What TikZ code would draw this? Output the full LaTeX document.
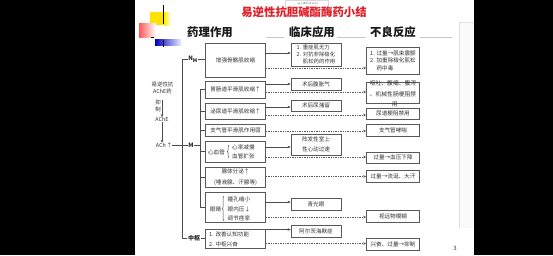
\documentclass[tikz,border=0pt]{standalone}
\usepackage{fontspec}
\setmainfont{Noto Sans CJK SC}
\usetikzlibrary{arrows.meta, decorations.pathreplacing}
\definecolor{ttlred}{RGB}{226,30,40}
\tikzset{
  lbox/.style ={draw=black!65, line width=0.7pt, minimum width=60pt, inner sep=0pt, align=center, font=\fontsize{5.6}{9.5}\selectfont, text=black!80},
  mbox/.style ={lbox, minimum width=50pt},
  rbox/.style ={lbox, minimum width=53pt},
  lbl/.style  ={inner sep=0pt, font=\fontsize{5.6}{9.5}\selectfont, text=black!80},
  tag/.style  ={inner sep=0.5pt, font=\bfseries\fontsize{6}{7}\selectfont, text=black!85},
  head/.style ={inner sep=0pt, font=\bfseries\fontsize{11.4}{12}\selectfont, text=black!90},
  tree/.style ={line width=0.6pt, black!70},
  use/.style  ={-{Stealth[length=3pt,width=2.6pt]}, line width=0.6pt, black!70},          % box -> clinical use
  side/.style ={-{Stealth[length=3pt,width=2.6pt]}, line width=0.5pt, black!65, dash pattern=on 1.4pt off 1pt}, % box -> adverse effect
  brc/.style  ={decorate, decoration={brace, amplitude=1.6pt}, line width=0.5pt, black!70},
}
\begin{document}
\begin{tikzpicture}[x=1pt, y=-1pt]
  \useasboundingbox (0,0) rectangle (553,255);
  % --- screen and slide ---
  \fill[black] (0,0) rectangle (553,255);
  \fill[white] (134.5,0) rectangle (474,255);
  \fill[gray!4] (459,22) rectangle (474,228);
  \draw[gray!25, line width=0.4pt] (459,22) -- (459,228) (459,22) -- (474,22);

  % --- slide ornament ---
  \fill[yellow!85!orange] (150,12) rectangle (164,25);
  \shade[left color=yellow!85!orange, right color=white] (164,12) rectangle (171,25);
  \shade[left color=red!65, right color=white] (139,23) rectangle (156,37);
  \shade[left color=blue!75!black, right color=blue!8] (155,39) rectangle (181,45);
  \draw[line width=0.8pt] (163,5) -- (163,24) (163,40) -- (163,47);
  \draw[line width=0.6pt] (151,37) -- (154,37);

  % --- recorder overlay ---
  \node[draw=gray!30, fill=white, minimum width=43pt, minimum height=7pt, inner sep=0pt] (rec) at (306.5,3.5) {};
  \fill[green!60!black] (299,3.5) circle (0.7pt);
  \node[inner sep=0pt, font=\fontsize{2.4}{3}\selectfont, text=black!60, anchor=west] (recTxt) at (300.5,3.5) {上课中 00:14:44};

  % --- title and column heads ---
  \node[inner sep=0pt, font=\bfseries\fontsize{11.4}{12}\selectfont, text=ttlred] (title) at (304,12.5) {易逆性抗胆碱酯酶药小结};
  \node[head] (hEff) at (210,32) {药理作用};
  \node[head] (hUse) at (312,32) {临床应用};
  \node[head] (hAdr) at (393,32) {不良反应};
  \draw[gray!45, line width=0.5pt] (266,37.7) -- (284,37.7) (337,37.7) -- (366,37.7) (420,37.7) -- (452,37.7);

  % --- drug -> AChE -> ACh ---
  \node[lbl, align=center, font=\fontsize{5.4}{7.5}\selectfont] (drug) at (162.5,88) {易逆性抗\\AChE药};
  \node[lbl, align=center, font=\fontsize{5.4}{7}\selectfont] (inhib) at (158,105.5) {抑\\制};
  \node[lbl, font=\fontsize{5.4}{7}\selectfont] (ache) at (162,119.5) {AChE};
  \node[lbl, font=\fontsize{5.4}{7}\selectfont] (ach) at (164,145.5) {ACh\,↑};
  \draw[use] (162,100) -- (ache.north);
  \draw[use] (ache.south) -- (ach.north -| ache.south);

  % --- receptor tags ---
  \node[tag] (nmTag)  at (193,59)  {N\textsubscript{M}};
  \node[tag] (mTag)   at (191,145.5) {M};
  \node[tag] (cnsTag) at (194,238) {中枢};
  \coordinate (tTop) at (182,59);
  \coordinate (tBot) at (182,238);
  \coordinate (mTop) at (200.7,89.5);
  \draw[tree] (nmTag.west) -- (tTop) -- (tBot) -- (cnsTag.west);
  \draw[tree] (ach.east) -- (mTag.west);

  % --- pharmacological effects ---
  \node[lbox, minimum height=34pt] (eNm)  at (235.5,60)    {增强骨骼肌收缩};
  \node[lbox, minimum height=17pt] (eGut) at (235.5,89.5)  {胃肠道平滑肌收缩↑};
  \node[lbox, minimum height=16pt] (eUri) at (235.5,111)   {泌尿道平滑肌收缩↑};
  \node[lbox, minimum height=12pt] (eBro) at (235.5,130)   {支气管平滑肌作用弱};
  \node[lbox, minimum height=21pt] (eCv)  at (235.5,151.5) {};
  \node[lbox, minimum height=20pt, font=\fontsize{5.6}{11}\selectfont] (eGla) at (235.5,177) {腺体分泌↑\\(唾液腺、汗腺等)};
  \node[lbox, minimum height=30pt] (eEye) at (235.5,207.5) {};
  \node[lbox, minimum height=19pt] (eCns) at (235.5,238.5) {};

  \node[lbl] (cvHead) at (216.5,152) {心血管};
  \node[lbl, anchor=west] (cvRate) at (232,147) {心率减慢};
  \node[lbl, anchor=west] (cvVes)  at (232,156.5) {血管扩张};
  \draw[brc] (229,158) -- (229,145);

  \node[lbl] (eyeHead) at (215.5,209) {眼睛};
  \node[lbl, anchor=west] (eyePup) at (227.5,199.5) {瞳孔缩小};
  \node[lbl, anchor=west] (eyeIop) at (227.5,209)   {眼内压↓};
  \node[lbl, anchor=west] (eyeAcc) at (227.5,218)   {调节痉挛};
  \draw[brc] (224,221) -- (224,196);

  \node[lbl, anchor=west] (cnsCog) at (209,234) {1. 改善认知功能};
  \node[lbl, anchor=west] (cnsExc) at (209,244) {2. 中枢兴奋};

  \draw[tree] (nmTag.east) -- (eNm.west |- nmTag);
  \draw[tree] (cnsTag.east) -- (eCns.west |- cnsTag);
  \draw[tree] (mTag.east) -- (mTag.east -| mTop);
  \draw[tree] (eGut.west) -- (eGut.west -| mTop) -- (eEye.west -| mTop) -- (eEye.west);
  \foreach \b in {eUri,eBro,eCv,eGla}
    \draw[tree] (\b.west) -- (\b.west -| mTop);

  % --- clinical use ---
  \node[mbox, minimum height=23pt, align=left, font=\fontsize{5.4}{7}\selectfont] (uMg) at (316,54.5)
    {1. 重症肌无力\\2. 对抗非除极化\\\hspace*{6.2pt}肌松药的作用};
  \node[mbox, minimum height=12pt] (uGut)  at (316,84)    {术后腹胀气};
  \node[mbox, minimum height=11pt] (uUri)  at (316,105.5) {术后尿潴留};
  \node[mbox, minimum height=21pt, font=\fontsize{5.6}{10}\selectfont] (uTach) at (316,144.5) {阵发性室上\\性心动过速};
  \node[mbox, minimum height=12pt] (uGlau) at (316,204)   {青光眼};
  \node[mbox, minimum height=12pt] (uAlz)  at (316,231)   {阿尔茨海默症};

  % --- adverse effects ---
  \node[rbox, minimum height=27pt, align=left, font=\fontsize{5.6}{7.5}\selectfont] (aNm) at (393,60.5)
    {1. 过量→肌束震颤\\2. 加重除极化肌松\\\hspace*{6.4pt}药中毒};
  \node[rbox, minimum height=21pt] (aGut) at (393,92.5) {};
  \node[lbl, align=left, font=\fontsize{5.8}{10.5}\selectfont] (aGutTxt) at (393,94) {呕吐、腹痛、腹泻\\、机械性肠梗阻禁\\\hspace*{22pt}用};
  \node[rbox, minimum height=11pt] (aUri) at (393,113.5) {尿道梗阻禁用};
  \node[rbox, minimum height=12pt] (aBro) at (393,130)   {支气管哮喘};
  \node[rbox, minimum height=11pt] (aCv)  at (393,157.5) {过量→血压下降};
  \node[rbox, minimum height=12pt] (aGla) at (393,176)   {过量→流涎、大汗};
  \node[rbox, minimum height=12pt] (aEye) at (393,216)   {视远物模糊};
  \node[rbox, minimum height=12pt] (aCns) at (393,244)   {兴奋、过量→抑制};

  % --- effect -> use (solid), effect -> adverse (dashed) ---
  \draw[use] (eNm.east |- 0,53)   -- (uMg.west |- 0,53);
  \draw[use] (eGut.east |- 0,84)  -- (uGut.west |- 0,84);
  \draw[use] (eUri.east |- 0,107) -- (uUri.west |- 0,107);
  \draw[use] (eCv.east |- 0,147)  -- (uTach.west |- 0,147);
  \draw[use] (eEye.east |- 0,202) -- (uGlau.west |- 0,202);
  \draw[use] (eCns.east |- 0,229.5) -- (uAlz.west |- 0,229.5);

  \draw[side] (eNm.east |- 0,68)   -- (aNm.west |- 0,68);
  \draw[side] (eGut.east |- 0,92)  -- (aGut.west |- 0,92);
  \draw[side] (eUri.east |- 0,115) -- (aUri.west |- 0,115);
  \draw[side] (eBro.east |- 0,131) -- (aBro.west |- 0,131);
  \draw[side] (eCv.east |- 0,157)  -- (aCv.west |- 0,157);
  \draw[side] (eGla.east |- 0,176.5) -- (aGla.west |- 0,176.5);
  \draw[side] (eEye.east |- 0,217) -- (aEye.west |- 0,217);
  \draw[side] (eCns.east |- 0,243.5) -- (aCns.west |- 0,243.5);

  \node[inner sep=0pt, font=\fontsize{6}{7}\selectfont, text=black!75] (pgNum) at (455,248) {3};
\end{tikzpicture}
\end{document}
